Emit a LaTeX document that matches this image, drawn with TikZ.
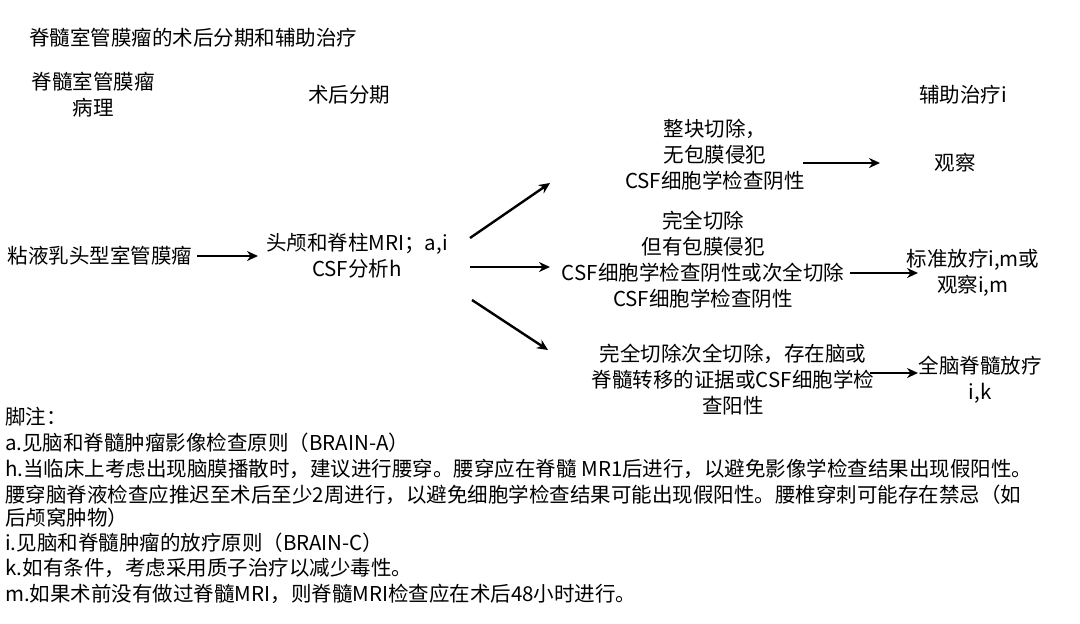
\documentclass[tikz,border=0pt]{standalone}
\usepackage{fontspec}
\setmainfont{Noto Sans CJK SC}
\usetikzlibrary{arrows.meta,positioning}

\begin{document}
\begin{tikzpicture}[x=1pt, y=-1pt, every node/.style={font=\fontsize{20.5}{26}\selectfont, align=center, inner sep=1pt},
    flow/.style={-{Stealth[length=11pt,width=10pt]}, line width=2.4pt}]
    \useasboundingbox (0,0) rectangle (1080,624);
    % headings
    \node[anchor=west] (title) at (28, 38) {脊髓室管膜瘤的术后分期和辅助治疗};
    \node (hpath) at (93, 95) {脊髓室管膜瘤\\病理};
    \node (hstage) at (349, 95) {术后分期};
    \node (htreat) at (963, 95) {辅助治疗i};

    % flow
    \node (path) at (100, 256) {粘液乳头型室管膜瘤};
    \node (mri) at (357, 256) {头颅和脊柱MRI；a,i\\CSF分析h};
    \node (st1) at (715, 155) {整块切除，\\无包膜侵犯\\CSF细胞学检查阴性};
    \node (st2) at (703, 260) {完全切除\\但有包膜侵犯\\CSF细胞学检查阴性或次全切除\\CSF细胞学检查阴性};
    \node (st3) at (733, 380) {完全切除次全切除，存在脑或\\脊髓转移的证据或CSF细胞学检\\查阳性};
    \node (tr1) at (955, 163) {观察};
    \node (tr2) at (973, 273) {标准放疗i,m或\\观察i,m};
    \node (tr3) at (980, 380) {全脑脊髓放疗\\i,k};

    \coordinate (a0) at (197, 256);
    \coordinate (b0) at (258, 256);
    \coordinate (m1) at (470, 238);
    \coordinate (m2) at (470, 267);
    \coordinate (m3) at (472, 300);
    \coordinate (e1) at (550, 183);
    \coordinate (e2) at (550, 267);
    \coordinate (e3) at (548, 350);
    \coordinate (a1) at (803, 163);
    \coordinate (b1) at (880, 163);
    \coordinate (a2) at (850, 273);
    \coordinate (b2) at (918, 273);
    \coordinate (a3) at (870, 373);
    \coordinate (b3) at (918, 373);
    \draw[flow] (a0) -- (b0);
    \draw[flow] (m1) -- (e1);
    \draw[flow] (m2) -- (e2);
    \draw[flow] (m3) -- (e3);
    \draw[flow] (a1) -- (b1);
    \draw[flow] (a2) -- (b2);
    \draw[flow] (a3) -- (b3);

    % footnotes
    \begin{scope}[every node/.style={font=\fontsize{20.5}{26}\selectfont, anchor=west, inner sep=0pt}]
        \node (n0) at (5, 417) {脚注：};
        \node (na) at (5, 443) {a.见脑和脊髓肿瘤影像检查原则（BRAIN-A）};
        \node (nh) at (5, 469) {h.当临床上考虑出现脑膜播散时，建议进行腰穿。腰穿应在脊髓 MR1后进行，以避免影像学检查结果出现假阳性。};
        \node (nh2) at (5, 495) {腰穿脑脊液检查应推迟至术后至少2周进行，以避免细胞学检查结果可能出现假阳性。腰椎穿刺可能存在禁忌（如};
        \node (nh3) at (5, 518) {后颅窝肿物）};
        \node (ni) at (5, 543) {i.见脑和脊髓肿瘤的放疗原则（BRAIN-C）};
        \node (nk) at (5, 568) {k.如有条件，考虑采用质子治疗以减少毒性。};
        \node (nm) at (5, 594) {m.如果术前没有做过脊髓MRI，则脊髓MRI检查应在术后48小时进行。};
    \end{scope}
\end{tikzpicture}
\end{document}
